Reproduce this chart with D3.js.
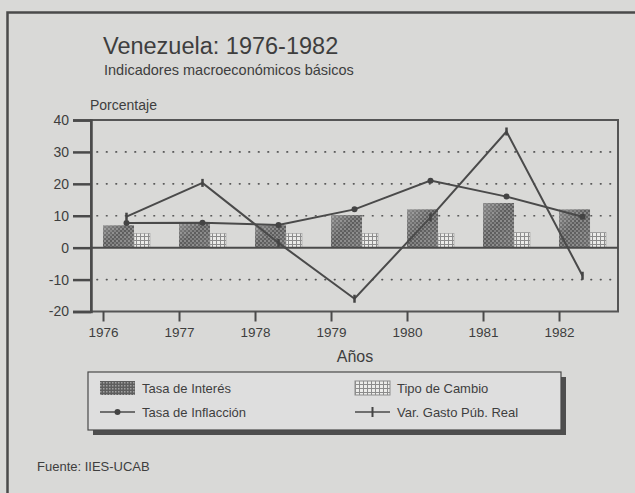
<!DOCTYPE html>
<html>
<head>
<meta charset="utf-8">
<script src="https://cdn.jsdelivr.net/npm/d3@7/dist/d3.min.js"></script>
<style>
  body { margin: 0; background: #d9d9d7; }
  svg { display: block; font-family: "Liberation Sans", Arial, sans-serif; }
</style>
</head>
<body>
<div id="chart"></div>
<script>
// ********** DATA **********
const years = [1976, 1977, 1978, 1979, 1980, 1981, 1982];
const tasaInteres = [7, 7.5, 7, 10.2, 12, 14, 12];
const tipoCambio = [4.5, 4.5, 4.5, 4.5, 4.5, 4.8, 4.8];
const tasaInflacion = [7.7, 7.8, 7.1, 12, 21, 16, 9.7];
const varGasto = [9.7, 20.3, 1.5, -16, 9.5, 36.4, -8.8];
const yTicks = [40, 30, 20, 10, 0, -10, -20];
const gridValues = [30, 20, 10, -10];
const legendItems = [
	{ label: 'Tasa de Interés', kind: 'dark' },
	{ label: 'Tipo de Cambio', kind: 'light' },
	{ label: 'Tasa de Inflacción', kind: 'dot' },
	{ label: 'Var. Gasto Púb. Real', kind: 'tick' }
];

const width = 635, height = 493;
const ink = '#3e3e3e';
const plot = { left: 91, right: 618, top: 120, bottom: 311.5 };

const svg = d3.select('#chart')
			.append('svg')
			.attr('width', width)
			.attr('height', height);

svg.append('rect')
	.attr('width', width)
	.attr('height', height)
	.attr('fill', '#d9d9d7');

// patterns + gradient for the bars
const defs = svg.append('defs');

const grad = defs.append('linearGradient')
				.attr('id', 'darkGrad')
				.attr('x1', '0%').attr('y1', '0%')
				.attr('x2', '100%').attr('y2', '100%');
grad.append('stop').attr('offset', '0%').attr('stop-color', '#8a8a8a');
grad.append('stop').attr('offset', '45%').attr('stop-color', '#5c5c5c');
grad.append('stop').attr('offset', '100%').attr('stop-color', '#6e6e6e');

const dots = defs.append('pattern')
				.attr('id', 'dots')
				.attr('width', 4).attr('height', 4)
				.attr('patternUnits', 'userSpaceOnUse');
dots.append('circle').attr('cx', 1).attr('cy', 1).attr('r', 0.8).attr('fill', '#c4c4c4');
dots.append('circle').attr('cx', 3).attr('cy', 3).attr('r', 0.8).attr('fill', '#a8a8a8');

const grid = defs.append('pattern')
				.attr('id', 'gridPat')
				.attr('width', 4).attr('height', 4)
				.attr('patternUnits', 'userSpaceOnUse');
grid.append('rect').attr('width', 4).attr('height', 4).attr('fill', '#ececea');
grid.append('path').attr('d', 'M0,0.5H4M0.5,0V4').attr('stroke', '#8c8c8c').attr('stroke-width', 1);

const checker = defs.append('pattern')
				.attr('id', 'checker')
				.attr('width', 3).attr('height', 3)
				.attr('patternUnits', 'userSpaceOnUse');
checker.append('rect').attr('width', 3).attr('height', 3).attr('fill', '#5e5e5e');
checker.append('rect').attr('width', 1.5).attr('height', 1.5).attr('fill', '#a0a0a0');

// outer frame of the figure
svg.append('rect')
	.attr('x', 7.5).attr('y', 12.5)
	.attr('width', 700).attr('height', 600)
	.attr('fill', 'none')
	.attr('stroke', '#4a4a4a')
	.attr('stroke-width', 2.5);

// titles
svg.append('text')
	.attr('x', 103).attr('y', 54)
	.attr('font-size', 23.5)
	.attr('fill', ink)
	.text('Venezuela: 1976-1982');

svg.append('text')
	.attr('x', 104).attr('y', 75)
	.attr('font-size', 14.5)
	.attr('fill', ink)
	.text('Indicadores macroeconómicos básicos');

svg.append('text')
	.attr('x', 90).attr('y', 110)
	.attr('font-size', 14)
	.attr('fill', ink)
	.text('Porcentaje');

// scales
const y = d3.scaleLinear().domain([-20, 40]).range([plot.bottom, plot.top]);
const x0 = d3.scaleBand()
			.domain(years)
			.range([plot.left, plot.right])
			.paddingInner(0.382)
			.paddingOuter(0.158);
const xTick = d3.scalePoint()
			.domain(years)
			.range([x0(years[0]), x0(years[years.length - 1])]);
const darkW = x0.bandwidth() * 0.66;
const lightW = x0.bandwidth() - darkW;
const cx = (d) => x0(d) + x0.bandwidth() / 2;

// dotted grid
svg.selectAll('line.grid')
	.data(gridValues)
	.enter()
	.append('line')
	.attr('class', 'grid')
	.attr('x1', plot.left + 6).attr('x2', plot.right - 4)
	.attr('y1', d => y(d)).attr('y2', d => y(d))
	.attr('stroke', '#555')
	.attr('stroke-width', 1.7)
	.attr('stroke-linecap', 'round')
	.attr('stroke-dasharray', '0.5,9');

// plot frame
svg.append('rect')
	.attr('x', plot.left).attr('y', plot.top)
	.attr('width', plot.right - plot.left)
	.attr('height', plot.bottom - plot.top)
	.attr('fill', 'none')
	.attr('stroke', '#555')
	.attr('stroke-width', 2);

// y axis
const yAxis = svg.append('g')
			.attr('transform', `translate(${plot.left},0)`)
			.call(d3.axisLeft(y).tickValues(yTicks).tickFormat(d => String(d)).tickSize(18).tickPadding(4));
yAxis.select('.domain').attr('stroke', '#4a4a4a').attr('stroke-width', 2.5);
yAxis.selectAll('.tick line').attr('stroke', '#4a4a4a').attr('stroke-width', 2.5);
yAxis.selectAll('.tick text')
	.attr('font-size', 14)
	.attr('fill', ink)
	.attr('font-family', '"Liberation Sans", Arial, sans-serif');

// x axis
const xAxis = svg.append('g')
			.attr('transform', `translate(0,${plot.bottom})`)
			.call(d3.axisBottom(xTick).tickSize(10).tickPadding(6));
xAxis.select('.domain').remove();
xAxis.selectAll('.tick line').attr('stroke', '#4a4a4a').attr('stroke-width', 2);
xAxis.selectAll('.tick text')
	.attr('font-size', 13.5)
	.attr('fill', ink)
	.attr('font-family', '"Liberation Sans", Arial, sans-serif');

svg.append('text')
	.attr('x', 355).attr('y', 362)
	.attr('text-anchor', 'middle')
	.attr('font-size', 16)
	.attr('fill', ink)
	.text('Años');

// bars - Tasa de Interés
const darkBars = svg.selectAll('g.dark')
				.data(years)
				.enter()
				.append('g')
				.attr('class', 'dark');
darkBars.append('rect')
	.attr('x', d => x0(d))
	.attr('y', (d, i) => y(tasaInteres[i]))
	.attr('width', darkW)
	.attr('height', (d, i) => y(0) - y(tasaInteres[i]))
	.attr('fill', 'url(#darkGrad)');
darkBars.append('rect')
	.attr('x', d => x0(d))
	.attr('y', (d, i) => y(tasaInteres[i]))
	.attr('width', darkW)
	.attr('height', (d, i) => y(0) - y(tasaInteres[i]))
	.attr('fill', 'url(#dots)');

// bars - Tipo de Cambio
svg.selectAll('rect.light')
	.data(years)
	.enter()
	.append('rect')
	.attr('class', 'light')
	.attr('x', d => x0(d) + darkW)
	.attr('y', (d, i) => y(tipoCambio[i]))
	.attr('width', lightW)
	.attr('height', (d, i) => y(0) - y(tipoCambio[i]))
	.attr('fill', 'url(#gridPat)')
	.attr('stroke', '#9a9a9a')
	.attr('stroke-width', 0.6);

// zero line
svg.append('line')
	.attr('x1', plot.left).attr('x2', plot.right)
	.attr('y1', y(0)).attr('y2', y(0))
	.attr('stroke', '#4a4a4a')
	.attr('stroke-width', 2);

// lines
const line = d3.line().x(d => cx(d[0])).y(d => y(d[1]));
const inflData = years.map((d, i) => [d, tasaInflacion[i]]);
const gastoData = years.map((d, i) => [d, varGasto[i]]);

svg.append('path')
	.datum(inflData)
	.attr('d', line)
	.attr('fill', 'none')
	.attr('stroke', '#4a4a4a')
	.attr('stroke-width', 2);

svg.selectAll('circle.infl')
	.data(inflData)
	.enter()
	.append('circle')
	.attr('class', 'infl')
	.attr('cx', d => cx(d[0]))
	.attr('cy', d => y(d[1]))
	.attr('r', 3)
	.attr('fill', '#444');

svg.append('path')
	.datum(gastoData)
	.attr('d', line)
	.attr('fill', 'none')
	.attr('stroke', '#4a4a4a')
	.attr('stroke-width', 2);

svg.selectAll('line.gasto')
	.data(gastoData)
	.enter()
	.append('line')
	.attr('class', 'gasto')
	.attr('x1', d => cx(d[0])).attr('x2', d => cx(d[0]))
	.attr('y1', d => y(d[1]) - 4).attr('y2', d => y(d[1]) + 4)
	.attr('stroke', '#444')
	.attr('stroke-width', 2.5);

// legend
const lg = { x: 88, y: 372, w: 473, h: 58 };
svg.append('rect')
	.attr('x', lg.x + 5).attr('y', lg.y + 5)
	.attr('width', lg.w).attr('height', lg.h)
	.attr('fill', '#4e4e4e');
svg.append('rect')
	.attr('x', lg.x).attr('y', lg.y)
	.attr('width', lg.w).attr('height', lg.h)
	.attr('fill', '#dedede')
	.attr('stroke', '#4a4a4a')
	.attr('stroke-width', 1.2);

const items = svg.selectAll('g.legend')
				.data(legendItems)
				.enter()
				.append('g')
				.attr('class', 'legend')
				.attr('transform', (d, i) => `translate(${lg.x + 12 + (i % 2) * 255},${lg.y + 16 + Math.floor(i / 2) * 24})`);

items.each(function(d) {
	const g = d3.select(this);
	if (d.kind === 'dark') {
		g.append('rect').attr('x', 0).attr('y', -7).attr('width', 35).attr('height', 14)
			.attr('fill', 'url(#checker)');
	} else if (d.kind === 'light') {
		g.append('rect').attr('x', 0).attr('y', -7).attr('width', 35).attr('height', 14)
			.attr('fill', 'url(#gridPat)').attr('stroke', '#8c8c8c').attr('stroke-width', 1);
	} else {
		g.append('line').attr('x1', 0).attr('x2', 35).attr('y1', 0).attr('y2', 0)
			.attr('stroke', '#4a4a4a').attr('stroke-width', 1.5);
		if (d.kind === 'dot') {
			g.append('circle').attr('cx', 17.5).attr('cy', 0).attr('r', 3).attr('fill', '#444');
		} else {
			g.append('line').attr('x1', 17.5).attr('x2', 17.5).attr('y1', -5).attr('y2', 5)
				.attr('stroke', '#444').attr('stroke-width', 2);
		}
	}
	g.append('text')
		.attr('x', 42).attr('y', 5)
		.attr('font-size', 13)
		.attr('fill', ink)
		.text(d.label);
});

svg.append('text')
	.attr('x', 37).attr('y', 471)
	.attr('font-size', 13)
	.attr('fill', ink)
	.text('Fuente: IIES-UCAB');
</script>
</body>
</html>
